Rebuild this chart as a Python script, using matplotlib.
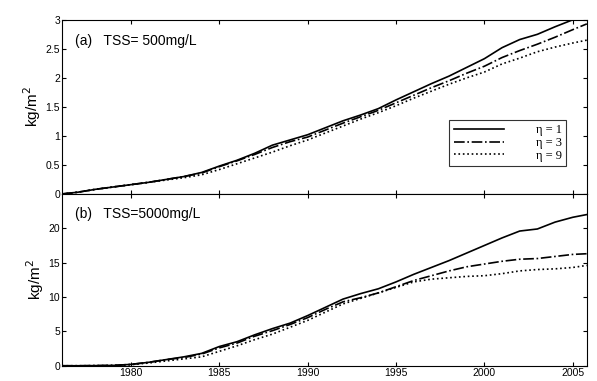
import numpy as np
import matplotlib
matplotlib.use('Agg')
import matplotlib.pyplot as plt

plt.rcParams['font.family'] = ['Liberation Sans', 'DejaVu Sans']

# Años (eje x común)
anios = [1976.1, 1977, 1978, 1979, 1980, 1981, 1982, 1983, 1984, 1985,
         1986, 1987, 1988, 1989, 1990, 1991, 1992, 1993, 1994, 1995,
         1996, 1997, 1998, 1999, 2000, 2001, 2002, 2003, 2004, 2005, 2005.8]

# (a) TSS = 500 mg/L
a_eta1 = [0.0, 0.03, 0.08, 0.12, 0.16, 0.20, 0.25, 0.30, 0.37, 0.48,
          0.58, 0.70, 0.84, 0.93, 1.02, 1.14, 1.26, 1.36, 1.47, 1.62,
          1.76, 1.90, 2.03, 2.18, 2.33, 2.52, 2.66, 2.75, 2.88, 3.00, 3.10]
a_eta3 = [0.0, 0.03, 0.08, 0.12, 0.16, 0.20, 0.25, 0.30, 0.36, 0.47,
          0.57, 0.68, 0.80, 0.90, 0.98, 1.10, 1.22, 1.33, 1.44, 1.57,
          1.70, 1.83, 1.95, 2.08, 2.20, 2.35, 2.47, 2.58, 2.70, 2.83, 2.93]
a_eta9 = [0.0, 0.03, 0.08, 0.12, 0.16, 0.20, 0.24, 0.28, 0.33, 0.42,
          0.52, 0.62, 0.72, 0.83, 0.93, 1.05, 1.17, 1.29, 1.40, 1.52,
          1.65, 1.77, 1.89, 2.00, 2.10, 2.24, 2.34, 2.45, 2.53, 2.60, 2.65]

# (b) TSS = 5000 mg/L
b_eta1 = [0.0, 0.0, 0.02, 0.05, 0.2, 0.5, 0.9, 1.3, 1.8, 2.8,
          3.5, 4.5, 5.4, 6.2, 7.3, 8.5, 9.7, 10.5, 11.2, 12.2,
          13.3, 14.3, 15.3, 16.4, 17.5, 18.6, 19.6, 19.9, 20.9, 21.6, 22.0]
b_eta3 = [0.0, 0.0, 0.02, 0.05, 0.2, 0.5, 0.9, 1.2, 1.7, 2.6,
          3.3, 4.3, 5.1, 6.0, 7.0, 8.2, 9.3, 9.9, 10.6, 11.5,
          12.4, 13.1, 13.8, 14.4, 14.8, 15.2, 15.5, 15.6, 15.9, 16.2, 16.3]
b_eta9 = [0.0, 0.0, 0.02, 0.05, 0.15, 0.4, 0.7, 1.0, 1.3, 2.1,
          2.9, 3.8, 4.6, 5.6, 6.6, 7.8, 9.0, 9.8, 10.6, 11.4,
          12.2, 12.6, 12.8, 13.0, 13.1, 13.4, 13.8, 14.0, 14.1, 14.3, 14.6]

etiquetas = ['η = 1', 'η = 3', 'η = 9']
estilos = ['-', '-.', ':']

fig = plt.figure(figsize=(5.97, 3.81), dpi=100)
ax1 = fig.add_axes([0.104, 0.491, 0.879, 0.457])
ax2 = fig.add_axes([0.104, 0.040, 0.879, 0.451])

for ax, series in [(ax1, [a_eta1, a_eta3, a_eta9]), (ax2, [b_eta1, b_eta3, b_eta9])]:
    for s, ls, lab in zip(series, estilos, etiquetas):
        ax.plot(anios, s, ls, color='black', lw=1.2, label=lab)
    ax.set_xlim(1976.1, 2005.8)
    ax.set_xticks([1980, 1985, 1990, 1995, 2000, 2005])
    ax.tick_params(direction='in', top=True, right=True, labelsize=7.5, length=3, pad=1.5)
    ax.set_ylabel('kg/m$^2$', fontsize=11, labelpad=2)

ax1.set_ylim(0, 3)
ax1.set_yticks([0, 0.5, 1, 1.5, 2, 2.5, 3])
ax1.set_yticklabels(['0', '0.5', '1', '1.5', '2', '2.5', '3'])
ax1.tick_params(labelbottom=False)
ax1.text(0.025, 0.855, '(a)   TSS= 500mg/L', transform=ax1.transAxes, fontsize=10)

ax2.set_ylim(0, 25)
ax2.set_yticks([0, 5, 10, 15, 20])
ax2.text(0.025, 0.86, '(b)   TSS=5000mg/L', transform=ax2.transAxes, fontsize=10)

leg = ax1.legend(loc='lower right', bbox_to_anchor=(0.973, 0.125),
                 fancybox=False, edgecolor='black', handlelength=4,
                 labelspacing=0.05, handletextpad=2.6, borderpad=0.35,
                 prop={'family': 'Liberation Serif', 'size': 9})
leg.get_frame().set_linewidth(0.8)

fig.savefig('out.png', dpi=100)
